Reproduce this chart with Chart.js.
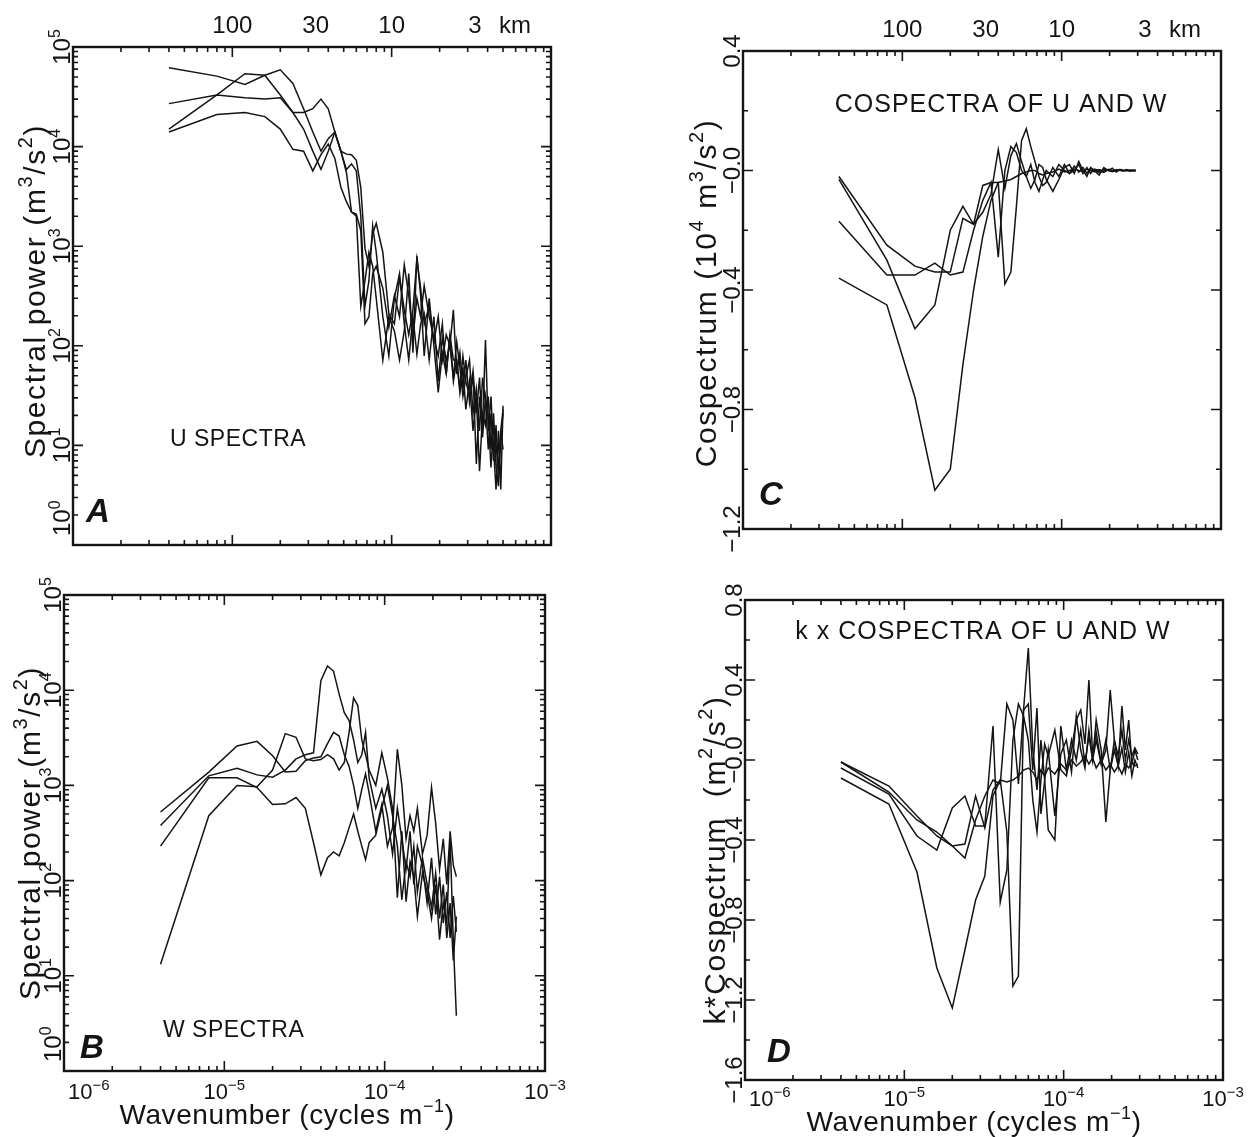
<!DOCTYPE html>
<html>
<head>
<meta charset="utf-8">
<script src="https://cdn.jsdelivr.net/npm/chart.js@4.4.0/dist/chart.umd.min.js"></script>
<style>
  html, body { margin: 0; padding: 0; background: #fff; }
  #page { position: relative; width: 1258px; height: 1137px; background: #fff; }
  #page canvas { position: absolute; left: 0; top: 0; }
</style>
</head>
<body>
<div id="page">
  <canvas id="panelA" width="1258" height="1137"></canvas>
  <canvas id="panelB" width="1258" height="1137"></canvas>
  <canvas id="panelC" width="1258" height="1137"></canvas>
  <canvas id="panelD" width="1258" height="1137"></canvas>
</div>
<script>
// wavenumber of each spectral estimate (cycles m^-1)
const wavenumber = [4.0e-6, 8.0e-6, 1.2e-5, 1.6e-5, 2.0e-5, 2.4e-5, 2.8e-5, 3.2e-5, 3.6e-5, 4.0e-5,
  4.4e-5, 4.8e-5, 5.2e-5, 5.6e-5, 6.0e-5, 6.4e-5, 6.8e-5, 7.2e-5, 7.6e-5, 8.0e-5,
  8.8e-5, 9.6e-5, 1.04e-4, 1.12e-4, 1.20e-4, 1.28e-4, 1.36e-4, 1.44e-4, 1.52e-4, 1.60e-4,
  1.72e-4, 1.84e-4, 1.96e-4, 2.08e-4, 2.20e-4, 2.32e-4, 2.44e-4, 2.56e-4, 2.68e-4, 2.80e-4,
  2.92e-4, 3.08e-4, 3.24e-4, 3.40e-4, 3.56e-4, 3.72e-4, 3.88e-4, 4.04e-4, 4.20e-4, 4.36e-4,
  4.52e-4, 4.68e-4, 4.84e-4, 5.00e-4];

// A: U spectra (m^3/s^2)
const uSpec1 = [62000, 51000, 42000, 52000, 59000, 43000, 24000, 14000, 9000, 12000,
  14000, 9000, 8400, 8300, 7300, 3900, 950, 630, 1330, 1700,
  870, 210, 166, 490, 230, 129, 230, 740, 380, 166,
  250, 110, 196, 72, 129, 101, 48, 110, 61, 31,
  48, 72, 21, 37, 14, 48, 27, 9.1, 21, 7.0,
  16, 4.7, 12, 21];
const uSpec2 = [15000, 33000, 54000, 52000, 33000, 22000, 22000, 24000, 30000, 24000,
  14000, 9000, 5900, 6700, 5700, 2000, 250, 450, 1600, 870,
  196, 79, 300, 530, 166, 72, 196, 82, 166, 210,
  72, 196, 44, 119, 72, 101, 230, 52, 85, 37,
  72, 27, 52, 6.5, 31, 16, 114, 14, 31, 9.1,
  3.6, 14, 3.6, 25];
const uSpec3 = [27000, 33000, 31000, 30000, 31000, 22000, 15000, 9000, 5900, 9000,
  14000, 9000, 5500, 2200, 2100, 1440, 166, 196, 530, 630,
  380, 153, 320, 196, 650, 320, 119, 300, 196, 400,
  196, 119, 79, 166, 52, 129, 72, 72, 37, 79,
  44, 31, 56, 21, 48, 12, 31, 19, 6.0, 16,
  10, 6.0, 14, 9.1];
const uSpec4 = [14000, 21000, 22000, 20000, 15000, 9400, 9000, 5700, 8300, 10600,
  7600, 3900, 2800, 2200, 2000, 250, 450, 870, 630, 300,
  72, 196, 141, 72, 141, 530, 85, 800, 320, 79,
  300, 101, 34, 85, 52, 129, 44, 72, 34, 61,
  23, 44, 14, 31, 5.5, 21, 16, 31, 9.1, 21,
  6.0, 3.9, 14, 23];

// B: W spectra (m^3/s^2)
const wSpec1 = [525, 1380, 2600, 2900, 2050, 1380, 1410, 1820, 1940, 2000,
  2750, 3600, 3300, 2100, 1580, 1000, 575, 910, 1320, 830,
  330, 630, 230, 360, 2400, 1000, 275, 480, 330, 575,
  190, 300, 950, 400, 132, 275, 91, 330, 145, 110];
const wSpec2 = [380, 1260, 1510, 1290, 1220, 1450, 1900, 2100, 2200, 12600,
  18000, 15800, 9100, 5800, 4800, 3000, 1740, 2100, 3600, 1200,
  575, 910, 480, 190, 575, 275, 132, 330, 91, 230,
  145, 58, 174, 44, 110, 36, 76, 25, 69, 29];
const wSpec3 = [230, 1200, 1200, 950, 630, 640, 745, 575, 250, 115,
  174, 200, 182, 250, 360, 500, 330, 230, 166, 250,
  300, 575, 1000, 480, 230, 63, 158, 110, 230, 76,
  174, 91, 52, 120, 40, 91, 25, 58, 14.5, 42];
const wSpec4 = [13.2, 480, 1000, 970, 1450, 3500, 3200, 1900, 1820, 1870,
  2100, 1900, 1450, 1740, 3600, 8300, 6900, 3000, 2100, 1450,
  1000, 2200, 1200, 575, 66, 330, 60, 158, 110, 42,
  120, 76, 40, 91, 24, 58, 36, 275, 23, 3.8];

// C: cospectra of u and w (10^4 m^3/s^2)
const cosp1 = [-0.36, -0.45, -0.76, -1.07, -1.00, -0.65, -0.40, -0.22, -0.10, -0.04,
  -0.035, -0.03, -0.02, -0.01, -0.005, 0.0, 0.0, -0.01, -0.015, -0.01,
  -0.005, 0.005, -0.005, 0.0, 0.005, 0.0, -0.003, 0.004, 0.0, -0.004,
  0.003, -0.002, 0.002, -0.002, 0.0, 0.002, -0.001, 0.001, 0.0, -0.001, 0.0];
const cosp2 = [-0.03, -0.30, -0.53, -0.45, -0.20, -0.12, -0.18, -0.14, -0.08, 0.07,
  -0.06, 0.05, 0.09, 0.03, -0.02, -0.06, -0.03, 0.02, 0.01, -0.03,
  -0.07, -0.03, 0.01, 0.02, -0.01, 0.03, 0.0, -0.02, 0.01, 0.0,
  -0.015, 0.01, 0.0, 0.008, -0.005, 0.004, 0.0, 0.003, -0.002, 0.001, 0.0];
const cosp3 = [-0.17, -0.35, -0.35, -0.31, -0.35, -0.34, -0.20, -0.10, -0.04, -0.29,
  0.0, 0.08, 0.06, 0.0, -0.02, 0.02, -0.04, -0.07, -0.03, 0.0,
  -0.02, 0.02, 0.0, -0.01, 0.015, -0.005, 0.01, -0.01, 0.008, 0.0,
  -0.006, 0.005, 0.0, -0.004, 0.003, 0.0, -0.002, 0.002, 0.0, 0.001, 0.0];
const cosp4 = [-0.02, -0.25, -0.32, -0.34, -0.34, -0.16, -0.18, -0.05, -0.04, -0.04,
  -0.38, -0.34, -0.12, 0.10, 0.14, 0.08, 0.03, -0.02, -0.05, -0.04,
  0.01, -0.02, 0.02, -0.01, 0.0, 0.02, -0.01, 0.01, -0.01, 0.005,
  0.0, -0.006, 0.004, 0.0, -0.003, 0.002, 0.0, -0.001, 0.001, 0.0, 0.0];

// D: k x cospectra (m^2/s^2)
const kcosp1 = [-0.09, -0.22, -0.56, -1.04, -1.24, -0.95, -0.70, -0.58, -0.18, -0.10,
  -0.11, -0.10, -0.08, -0.05, -0.04, -0.06, -0.10, -0.05, -0.08, -0.04,
  -0.07, -0.02, -0.05, 0.0, -0.03, -0.01, 0.02, -0.02, 0.01, -0.04,
  0.0, -0.05, -0.02, -0.06, -0.03, -0.07, -0.02, -0.04, -0.01, -0.03, -0.02];
const kcosp2 = [-0.04, -0.17, -0.38, -0.45, -0.24, -0.18, -0.33, -0.33, 0.17, -0.71,
  -0.55, 0.10, 0.28, 0.22, 0.10, -0.20, -0.36, -0.10, 0.08, 0.02,
  0.15, -0.05, -0.08, 0.05, 0.20, 0.25, 0.08, 0.40, 0.02, 0.14,
  -0.02, 0.10, -0.05, 0.05, -0.03, 0.06, -0.06, 0.04, -0.08, 0.0, -0.04];
const kcosp3 = [-0.01, -0.13, -0.28, -0.38, -0.43, -0.42, -0.18, -0.34, -0.15, -0.10,
  -0.36, -1.13, -1.08, 0.25, 0.56, 0.05, -0.15, 0.10, -0.10, -0.35,
  -0.40, 0.17, -0.05, 0.10, 0.0, 0.15, -0.02, 0.12, 0.0, 0.10,
  -0.02, 0.05, 0.35, 0.10, -0.03, 0.27, 0.05, 0.20, -0.02, 0.05, 0.0];
const kcosp4 = [-0.01, -0.16, -0.30, -0.36, -0.43, -0.49, -0.30, -0.18, -0.10, -0.12,
  0.28, 0.20, -0.12, 0.25, 0.28, -0.05, 0.26, -0.27, -0.10, 0.05,
  -0.28, 0.03, 0.10, -0.06, 0.22, 0.05, -0.04, 0.15, 0.0, 0.20,
  0.05, -0.31, -0.05, 0.10, 0.02, 0.15, 0.0, 0.10, 0.02, 0.06, 0.03];

// tick labels
const kmTicks = [100, 30, 10, 3];               // wavelength (km) on the top axis
const waveTicks = [1e-6, 1e-5, 1e-4, 1e-3];      // labelled wavenumbers
const powerTicks = [1, 10, 100, 1000, 1e4, 1e5]; // labelled spectral power
const cospTicks = [-1.2, -0.8, -0.4, 0, 0.4];
const kcospTicks = [-1.6, -1.2, -0.8, -0.4, 0, 0.4, 0.8];

const W = 1258, H = 1137;
const INK = '#141414';
const SANS = '"Liberation Sans", Arial, Helvetica, sans-serif';

function logTicks(e0, e1) {
  const out = [];
  for (let e = e0; e < e1; e++) {
    for (let m = 1; m <= 9; m++) {
      out.push({value: m * Math.pow(10, e), major: m === 1});
    }
  }
  out.push({value: Math.pow(10, e1), major: true});
  return out;
}

function linTicks(min, max, labelled) {
  const out = [];
  for (let i = Math.round(min * 10); i <= Math.round(max * 10); i += 2) {
    const v = i / 10;
    out.push({value: v, major: labelled.some(l => Math.abs(l - v) < 1e-9)});
  }
  return out;
}

function parseRich(text) {
  return text.split(/(\^\{[^}]*\})/).filter(s => s).map(s => {
    const m = s.match(/^\^\{([^}]*)\}$/);
    return m ? {t: m[1], sup: true} : {t: s, sup: false};
  });
}

function measureRich(ctx, text, size, spacing) {
  ctx.letterSpacing = (spacing || 0) + 'px';
  let total = 0;
  parseRich(text).forEach(p => {
    ctx.font = (p.sup ? Math.round(size * 0.66) : size) + 'px ' + SANS;
    total += ctx.measureText(p.t).width;
  });
  ctx.letterSpacing = '0px';
  return total;
}

function drawRich(ctx, text, x, y, size, align, spacing) {
  const parts = parseRich(text);
  const supSize = Math.round(size * 0.66);
  ctx.letterSpacing = (spacing || 0) + 'px';
  let total = 0;
  parts.forEach(p => {
    ctx.font = (p.sup ? supSize : size) + 'px ' + SANS;
    p.w = ctx.measureText(p.t).width;
    total += p.w;
  });
  let cx = align === 'center' ? x - total / 2 : (align === 'right' ? x - total : x);
  ctx.textAlign = 'left';
  ctx.textBaseline = 'alphabetic';
  parts.forEach(p => {
    ctx.font = (p.sup ? supSize : size) + 'px ' + SANS;
    ctx.fillText(p.t, cx, p.sup ? y - size * 0.42 : y);
    cx += p.w;
  });
  ctx.letterSpacing = '0px';
}

function fmtLin(v) {
  if (Math.abs(v) < 1e-9) return '\u22120.0';
  return (v < 0 ? '\u2212' : '') + Math.abs(v).toFixed(1);
}

function framePlugin(cfg) {
  return {
    id: 'frame',
    afterDraw(chart) {
      const {ctx, chartArea: a} = chart;
      const xs = chart.scales.x, ys = chart.scales.y;
      ctx.save();
      ctx.strokeStyle = INK;
      ctx.fillStyle = INK;

      // inward tick marks on all four sides
      ctx.lineWidth = 1.6;
      ctx.beginPath();
      xs.ticks.forEach(t => {
        const p = xs.getPixelForValue(t.value);
        const len = t.major ? 10 : 5;
        ctx.moveTo(p, a.bottom); ctx.lineTo(p, a.bottom - len);
        ctx.moveTo(p, a.top); ctx.lineTo(p, a.top + len);
      });
      ys.ticks.forEach(t => {
        const p = ys.getPixelForValue(t.value);
        const len = t.major ? 10 : 5;
        ctx.moveTo(a.left, p); ctx.lineTo(a.left + len, p);
        ctx.moveTo(a.right, p); ctx.lineTo(a.right - len, p);
      });
      ctx.stroke();

      ctx.lineWidth = 2.4;
      ctx.strokeRect(a.left, a.top, a.right - a.left, a.bottom - a.top);

      // y tick labels, rotated
      ys.ticks.filter(t => t.major).forEach(t => {
        const py = ys.getPixelForValue(t.value);
        const txt = cfg.log ? '10^{' + Math.round(Math.log10(t.value)) + '}' : fmtLin(t.value);
        const w = measureRich(ctx, txt, 24);
        let lx = 0;
        if (cfg.log && t.value === ys.min) lx = 9 + w / 2;
        ctx.save();
        ctx.translate(a.left - 3, py);
        ctx.rotate(-Math.PI / 2);
        drawRich(ctx, txt, lx, 0, 24, 'center');
        ctx.restore();
      });

      // x tick labels and title
      if (cfg.xLabelY) {
        waveTicks.forEach((v, i) => {
          const px = xs.getPixelForValue(v);
          const txt = '10^{\u2212' + Math.round(-Math.log10(v)) + '}';
          if (i === 0) drawRich(ctx, txt, px + 4, cfg.xLabelY, 22, 'left');
          else drawRich(ctx, txt, px, cfg.xLabelY, 22, 'center');
        });
        drawRich(ctx, 'Wavenumber (cycles m^{\u22121})', cfg.xTitleAt[0], cfg.xTitleAt[1], 28, 'center', 0.6);
      }

      // wavelength labels on top
      if (cfg.kmAxis) {
        ctx.font = '24px ' + SANS;
        ctx.textBaseline = 'alphabetic';
        kmTicks.forEach(km => {
          const px = xs.getPixelForValue(1 / (km * 1000));
          ctx.textAlign = 'center';
          ctx.fillText(String(km), px, a.top - 14);
          if (km === kmTicks[kmTicks.length - 1]) {
            ctx.textAlign = 'left';
            ctx.fillText('km', px + 24, a.top - 14);
          }
        });
      }

      // y axis title
      ctx.save();
      ctx.translate(cfg.yTitleAt[0], cfg.yTitleAt[1]);
      ctx.rotate(-Math.PI / 2);
      drawRich(ctx, cfg.yTitle, 0, 0, 30, 'center', 1.6);
      ctx.restore();

      // annotation inside the frame
      drawRich(ctx, cfg.note, cfg.noteAt[0], cfg.noteAt[1], cfg.noteSize, cfg.noteAlign, cfg.noteSpacing);

      // panel letter
      ctx.font = 'italic bold 33px "Liberation Sans Narrow", "Liberation Sans", sans-serif';
      ctx.textAlign = 'left';
      ctx.fillText(cfg.letter, cfg.letterAt[0], cfg.letterAt[1]);

      ctx.restore();
    }
  };
}

function makePanel(cfg) {
  const datasets = cfg.series.map(s => ({
    data: s.map((v, i) => ({x: wavenumber[i], y: v})),
    borderColor: INK,
    borderWidth: 1.5,
    pointRadius: 0,
    tension: 0,
    fill: false
  }));
  const yScale = cfg.log
    ? {type: 'logarithmic', min: 1, max: 1e5, display: false,
       ticks: {display: false, autoSkip: false},
       afterBuildTicks: s => { s.ticks = logTicks(0, 5); }}
    : {type: 'linear', min: cfg.yMin, max: cfg.yMax, display: false,
       ticks: {display: false, autoSkip: false},
       afterBuildTicks: s => { s.ticks = linTicks(cfg.yMin, cfg.yMax, cfg.yLabels); }};

  new Chart(document.getElementById(cfg.id), {
    type: 'line',
    data: {datasets},
    options: {
      responsive: false,
      animation: false,
      events: [],
      layout: {padding: {left: cfg.box[0], top: cfg.box[1], right: W - cfg.box[2], bottom: H - cfg.box[3]}},
      plugins: {legend: {display: false}, tooltip: {enabled: false}},
      scales: {
        x: {type: 'logarithmic', min: 1e-6, max: 1e-3, display: false,
            ticks: {display: false, autoSkip: false},
            afterBuildTicks: s => { s.ticks = logTicks(-6, -3); }},
        y: yScale
      }
    },
    plugins: [framePlugin(cfg)]
  });
}

makePanel({
  id: 'panelA', box: [73, 47, 551, 545], log: true,
  series: [uSpec1, uSpec2, uSpec3, uSpec4],
  kmAxis: true,
  yTitle: 'Spectral power (m^{3}/s^{2})', yTitleAt: [45, 291],
  note: 'U SPECTRA', noteAt: [170, 446], noteAlign: 'left', noteSize: 23, noteSpacing: 0.5,
  letter: 'A', letterAt: [86, 522]
});

makePanel({
  id: 'panelB', box: [64, 595, 545, 1071], log: true,
  series: [wSpec1, wSpec2, wSpec3, wSpec4],
  xLabelY: 1099, xTitleAt: [287, 1124],
  yTitle: 'Spectral power (m^{3}/s^{2})', yTitleAt: [40, 833],
  note: 'W SPECTRA', noteAt: [163, 1037], noteAlign: 'left', noteSize: 23, noteSpacing: 0.5,
  letter: 'B', letterAt: [80, 1058]
});

makePanel({
  id: 'panelC', box: [743, 51, 1221, 529], log: false, yMin: -1.2, yMax: 0.4, yLabels: cospTicks,
  series: [cosp1, cosp2, cosp3, cosp4],
  kmAxis: true,
  yTitle: 'Cospectrum (10^{4} m^{3}/s^{2})', yTitleAt: [716, 293],
  note: 'COSPECTRA OF U AND W', noteAt: [1001, 112], noteAlign: 'center', noteSize: 25, noteSpacing: 1,
  letter: 'C', letterAt: [759, 505]
});

makePanel({
  id: 'panelD', box: [745, 600, 1223, 1080], log: false, yMin: -1.6, yMax: 0.8, yLabels: kcospTicks,
  series: [kcosp1, kcosp2, kcosp3, kcosp4],
  xLabelY: 1106, xTitleAt: [974, 1131],
  yTitle: 'k*Cospectrum  (m^{2}/s^{2})', yTitleAt: [725, 860],
  note: 'k x COSPECTRA OF U AND W', noteAt: [983, 639], noteAlign: 'center', noteSize: 25, noteSpacing: 1,
  letter: 'D', letterAt: [767, 1062]
});
</script>
</body>
</html>
